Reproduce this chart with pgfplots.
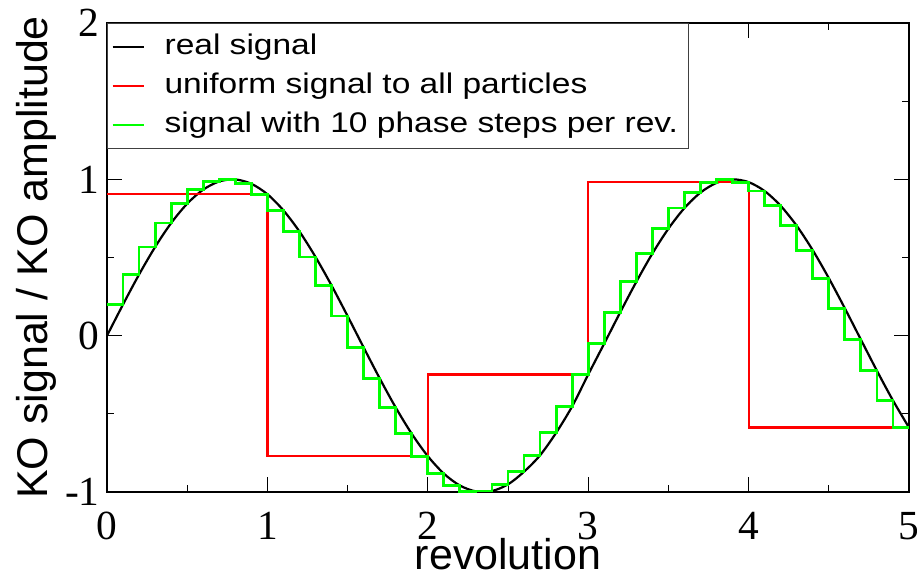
\documentclass[border=0pt]{standalone}
\usepackage{pgfplots}
\pgfplotsset{compat=1.18}
\usepackage{fontspec}
\setmainfont{Liberation Sans}
\newfontfamily\tickfont{Liberation Serif}
\newfontfamily\legfont[FakeStretch=1.18]{Liberation Sans}
\begin{document}
\begin{tikzpicture}
\begin{axis}[
  scale only axis, width=401pt, height=234.5pt,
  xmin=0, xmax=5, ymin=-1, ymax=2,
  xtick={0,1,2,3,4,5}, xticklabels={0,1,2,3,4,5},
  ytick={-1,0,1,2}, yticklabels={-1,0,1,2},
  minor x tick num=1, minor y tick num=1,
  tick align=inside, xtick pos=both, ytick pos=both,
  major tick length=7.5pt, minor tick length=3.5pt,
  every tick/.style={black, line width=0.5pt},
  axis line style={line width=1pt},
  ticklabel style={font=\tickfont\fontsize{20.7}{24}\selectfont},
  xticklabel style={inner sep=0pt, yshift=-10pt},
  yticklabel style={inner sep=0pt, xshift=-3.5pt},
  xlabel={revolution}, ylabel={KO signal / KO amplitude},
  label style={font=\fontsize{21.5}{25}\selectfont},
  xlabel style={at={(axis description cs:0.5,0)}, anchor=base, yshift=-38.5pt},
  ylabel style={at={(axis description cs:-0.0736,0.5)}, anchor=base},
  legend cell align=left,
  legend image code/.code={\draw[#1, line width=1pt] (0pt,0pt) -- (15.5pt,0pt);},
  legend style={at={(axis description cs:0,1)}, anchor=north west,
    draw=black!75, line width=0.6pt, fill=white,
    inner xsep=2pt, inner ysep=2pt, row sep=0pt, column sep=7pt,
    font=\legfont\fontsize{14.2}{17}\selectfont,
    nodes={inner sep=3pt, text height=10.5pt, text depth=3pt}},
]
\addplot[black, line width=1.1pt, smooth] coordinates {
(0,0)(0.1,0.1997)(0.2,0.3914)(0.3,0.5672)(0.4,0.7204)(0.5,0.8443)(0.6,0.9343)(0.7,0.9867)(0.8,0.9993)(0.9,0.9716)
(1.0,0.9048)(1.1,0.8013)(1.2,0.6660)(1.3,0.5036)(1.4,0.3210)(1.5,0.1253)(1.6,-0.0753)(1.7,-0.2729)(1.8,-0.4596)(1.9,-0.6277)
(2.0,-0.7705)(2.1,-0.8823)(2.2,-0.9585)(2.3,-0.9961)(2.4,-0.9936)(2.5,-0.9511)(2.6,-0.8701)(2.7,-0.7651)(2.8,-0.6211)(2.9,-0.4521)
(3.0,-0.2487)(3.1,-0.0502)(3.2,0.1502)(3.3,0.3446)(3.4,0.5252)(3.5,0.6845)(3.6,0.8163)(3.7,0.9153)(3.8,0.9773)(3.9,0.9999)
(4.0,0.9823)(4.1,0.9251)(4.2,0.8306)(4.3,0.7027)(4.4,0.5464)(4.5,0.3681)(4.6,0.1750)(4.7,-0.0251)(4.8,-0.2243)(4.9,-0.4144)
(5.0,-0.5878)};
\addlegendentry{real signal}
\addplot[red, line width=1.1pt, const plot mark right] coordinates {
(0,0.9048)(1,0.9048)(2,-0.7705)(3,-0.2487)(4,0.9823)(5,-0.5878)};
\addlegendentry{uniform signal to all particles}
\addplot[green, line width=1.4pt, const plot mark right] coordinates {
(0,0.1997)(0.1,0.1997)(0.2,0.3914)(0.3,0.5672)(0.4,0.7204)(0.5,0.8443)(0.6,0.9343)(0.7,0.9867)(0.8,0.9993)(0.9,0.9716)
(1.0,0.9048)(1.1,0.8013)(1.2,0.6660)(1.3,0.5036)(1.4,0.3210)(1.5,0.1253)(1.6,-0.0753)(1.7,-0.2729)(1.8,-0.4596)(1.9,-0.6277)
(2.0,-0.7705)(2.1,-0.8823)(2.2,-0.9585)(2.3,-0.9961)(2.4,-0.9936)(2.5,-0.9511)(2.6,-0.8701)(2.7,-0.7651)(2.8,-0.6211)(2.9,-0.4521)
(3.0,-0.2487)(3.1,-0.0502)(3.2,0.1502)(3.3,0.3446)(3.4,0.5252)(3.5,0.6845)(3.6,0.8163)(3.7,0.9153)(3.8,0.9773)(3.9,0.9999)
(4.0,0.9823)(4.1,0.9251)(4.2,0.8306)(4.3,0.7027)(4.4,0.5464)(4.5,0.3681)(4.6,0.1750)(4.7,-0.0251)(4.8,-0.2243)(4.9,-0.4144)
(5.0,-0.5878)};
\addlegendentry{signal with 10 phase steps per rev.}
\coordinate (sw) at (rel axis cs:0,0);
\coordinate (ne) at (rel axis cs:1,1);
\end{axis}
\pgfresetboundingbox
\path[use as bounding box] ([xshift=-53.5pt,yshift=-41pt]sw) rectangle ([xshift=4pt,yshift=11.5pt]ne);
\end{tikzpicture}
\end{document}
